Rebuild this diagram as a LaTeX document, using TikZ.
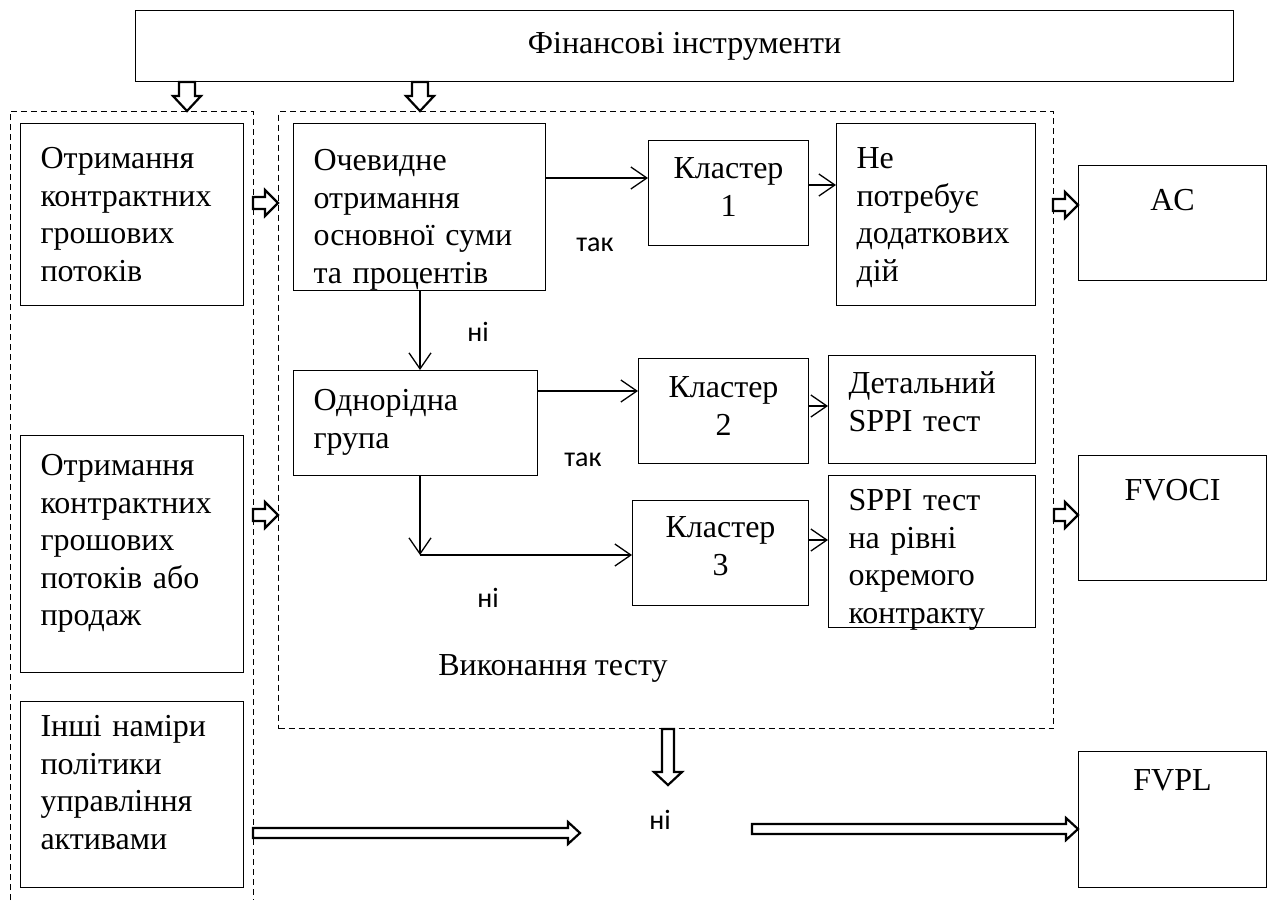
\documentclass[tikz,border=0pt]{standalone}
\usepackage{fontspec}
\setmainfont{Liberation Serif}
\newfontfamily\carlito{Carlito}
\usepackage{tikz}
\usetikzlibrary{positioning,calc,arrows.meta}

\tikzset{
  boxl/.style={draw, line width=1pt, anchor=north west, align=left,
    inner xsep=20pt, inner ysep=0pt, font=\fontsize{32}{37.5}\selectfont},
  boxc/.style={boxl, align=center, inner xsep=0pt},
  frame/.style={draw, line width=1pt, dash pattern=on 6pt off 4pt},
  arr/.style={line width=1.3pt, -{Straight Barb[length=16pt,width=22pt]}},
  hollow/.style={draw, line width=2.2pt, fill=white},
  lab/.style={font=\carlito\fontsize{28}{32}\selectfont},
}

% hollow arrows: from, to, half shaft, half head, head length
\newcommand{\harrow}[5]{
  \draw[hollow] ($(#1)+(0,-#3)$) -- ($(#2)+(-#5,-#3)$) -- ($(#2)+(-#5,-#4)$) -- (#2)
    -- ($(#2)+(-#5,#4)$) -- ($(#2)+(-#5,#3)$) -- ($(#1)+(0,#3)$) -- cycle;
}
\newcommand{\varrow}[5]{
  \draw[hollow] ($(#1)+(-#3,0)$) -- ($(#2)+(-#3,-#5)$) -- ($(#2)+(-#4,-#5)$) -- (#2)
    -- ($(#2)+(#4,-#5)$) -- ($(#2)+(#3,-#5)$) -- ($(#1)+(#3,0)$) -- cycle;
}

\begin{document}
\begin{tikzpicture}[x=1pt, y=-1pt]
        \useasboundingbox (0,0) rectangle (1268,900);
        % frames
        \coordinate (lfl) at (10,111);
        \coordinate (lfr) at (253,111);
        \draw[frame] (lfl |- 0,900) -- (lfl) -- (lfr) -- (lfr |- 0,900);
        \node[frame, anchor=north west, minimum width=775pt, minimum height=617pt, inner sep=0pt] (tf) at (278,111) {};
        % boxes
        \node[boxc, minimum width=1098pt, minimum height=71pt] (fi) at (135,10) {Фінансові інструменти};
        \node[boxl, minimum width=223pt, text width=183pt, text height=45pt, text depth=137pt] (ol1) at (20,123) {Отримання\\контрактних\\грошових\\потоків};
        \node[boxl, minimum width=223pt, text width=183pt, text height=40pt, text depth=197pt] (ol2) at (20,435) {Отримання\\контрактних\\грошових\\потоків або\\продаж};
        \node[boxl, minimum width=223pt, text width=183pt, text height=35pt, text depth=151pt] (ol3) at (20,701) {Інші наміри\\політики\\управління\\активами};
        \node[boxl, minimum width=252pt, text width=212pt, text height=47pt, text depth=120pt] (ob) at (293,123) {Очевидне\\отримання\\основної суми\\та процентів};
        \node[boxl, minimum width=244pt, text width=204pt, text height=40pt, text depth=65pt] (og) at (293,370) {Однорідна\\група};
        \node[boxc, minimum width=160pt, text width=160pt, text height=38pt, text depth=67pt] (k1) at (648,140) {Кластер\\1};
        \node[boxc, minimum width=170pt, text width=170pt, text height=39pt, text depth=66pt] (k2) at (638,358) {Кластер\\2};
        \node[boxc, minimum width=176pt, text width=176pt, text height=37pt, text depth=68pt] (k3) at (632,500) {Кластер\\3};
        \node[boxl, minimum width=199pt, text width=159pt, text height=45pt, text depth=137pt] (np) at (836,123) {Не\\потребує\\додаткових\\дій};
        \node[boxl, minimum width=207pt, text width=167pt, text height=38pt, text depth=70pt] (dt) at (828,355) {Детальний\\SPPI тест};
        \node[boxl, minimum width=207pt, text width=167pt, text height=35pt, text depth=117pt] (sp) at (828,475) {SPPI тест\\на рівні\\окремого\\контракту};
        \node[boxc, minimum width=188pt, text height=45pt, text depth=70pt] (ac) at (1078,165) {AC};
        \node[boxc, minimum width=188pt, text height=45pt, text depth=80pt] (fvoci) at (1078,455) {FVOCI};
        \node[boxc, minimum width=188pt, text height=39pt, text depth=97pt] (fvpl) at (1078,751) {FVPL};
        % labels
        \node[lab] (tak1) at (595,245) {так};
        \node[lab] (ni1) at (478,332) {ні};
        \node[lab] (tak2) at (583,460) {так};
        \node[lab] (ni2) at (488,598) {ні};
        \node[font=\fontsize{32}{37.5}\selectfont] (vt) at (553,668) {Виконання тесту};
        \node[lab] (ni3) at (660,820) {ні};
        % thin arrows
        \coordinate (r1) at (0,178);
        \coordinate (r2) at (0,185);
        \coordinate (r3) at (0,391);
        \coordinate (r4) at (0,406);
        \coordinate (r5) at (0,540);
        \coordinate (c1) at (420,0);
        \coordinate (c2) at (420,555);
        \draw[arr] (ob.east |- r1) -- (k1.west |- r1);
        \draw[arr] (k1.east |- r2) -- (np.west |- r2);
        \draw[arr] (ob.south -| c1) -- (og.north -| c1);
        \draw[arr] (og.east |- r3) -- (k2.west |- r3);
        \draw[arr] (k2.east |- r4) -- (dt.west |- r4);
        \draw[arr] (og.south -| c2) -- (c2);
        \draw[arr] (c2) -- (k3.west |- c2);
        \draw[arr] (k3.east |- r5) -- (sp.west |- r5);
        % hollow arrows
        \coordinate (tl) at (187,111);
        \coordinate (tc) at (420,111);
        \varrow{fi.south -| tl}{tl}{8}{14}{15}
        \varrow{fi.south -| tc}{tc}{8}{14}{15}
        \coordinate (h1) at (253,203);
        \coordinate (h2) at (253,515);
        \coordinate (h3) at (1053,205);
        \harrow{h1}{h1 -| tf.west}{6}{13}{13}
        \harrow{h2}{h2 -| tf.west}{6}{13}{13}
        \harrow{h3}{h3 -| ac.west}{6}{13}{13}
        \harrow{tf.east |- h2}{h2 -| fvoci.west}{6}{13}{13}
        \coordinate (nd) at (668,785);
        \varrow{tf.south -| nd}{nd}{6}{14}{13}
        \coordinate (l1) at (253,833);
        \coordinate (l2) at (580,833);
        \coordinate (l3) at (752,829);
        \harrow{l1}{l2}{5}{11}{12}
        \harrow{l3}{l3 -| fvpl.west}{5}{11}{12}
\end{tikzpicture}
\end{document}
